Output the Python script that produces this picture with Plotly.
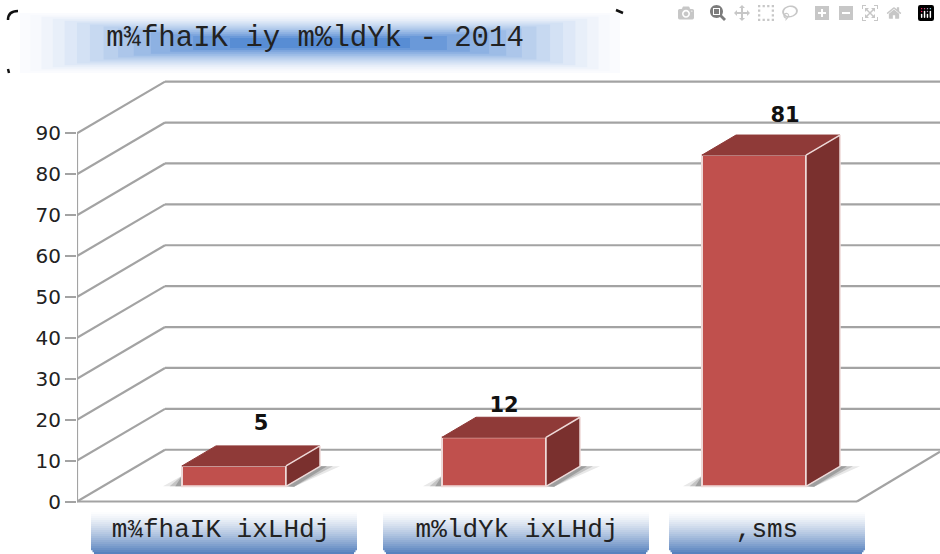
import plotly.graph_objects as go

title_text = "m¾fhaIK iy m%ldYk - 2014"
categories = ["m¾fhaIK ixLHdj", "m%ldYk ixLHdj", ",sms"]
values = [5, 12, 81]
y_ticks = [0, 10, 20, 30, 40, 50, 60, 70, 80, 90]

# layout constants (figure pixels)
W, H = 940, 554
PLOT_L, PLOT_B_PX = 77, 509
Y0_PX, PX_PER_V = 501.5, 4.09
X0_PX, PX_PER_X = 234.0, 260.0
V_MIN = (Y0_PX - PLOT_B_PX) / PX_PER_V
V_MAX = Y0_PX / PX_PER_V
X_MIN = (PLOT_L - X0_PX) / PX_PER_X
X_MAX = (W - X0_PX) / PX_PER_X

WALL_DX, WALL_DV = 88 / PX_PER_X, 12.65
BAR_W, BAR_BASE = 104 / PX_PER_X, 3.7
BAR_DX, BAR_DV = 34 / PX_PER_X, 4.9
FLOOR_END_X = (857 - X0_PX) / PX_PER_X

GRID = "#a3a3a3"
FRONT, TOP, SIDE, EDGE = "#c0504d", "#8f3a38", "#7a302e", "#eed9d8"
label_centers_px = [221, 517, 767]
label_dx_px = [27, 10, 31]
label_dy_px = [41, 31, 38]


def px(x):
    return (x - PLOT_L) / (W - PLOT_L)


def py(y):
    return (PLOT_B_PX - y) / PLOT_B_PX


def rect(x0, x1, y0, y1, color):
    return dict(type="rect", xref="paper", yref="paper", x0=px(x0), x1=px(x1), y0=py(y0), y1=py(y1),
                fillcolor=color, line=dict(width=0), layer="below")


def mix(c0, c1, t):
    return "rgb(%d,%d,%d)" % tuple(round(a + (b - a) * t) for a, b in zip(c0, c1))


shapes = []
# title banner
for i in range(14):
    t = i / 13
    hw = 300 * (1 - t) ** 0.75 + 90 * t
    hh = 30 * (1 - t) + 5 * t
    col = mix((250, 251, 254), (88, 141, 212), t ** 1.5)
    shapes.append(rect(320 - hw, 320 + hw, 43 - hh, 43 + hh, col))
# title corner marks
for d in ["M %f %f Q %f %f %f %f" % (px(8), py(20), px(8), py(11), px(18), py(11)),
          "M %f %f L %f %f" % (px(8), py(69), px(9), py(73)),
          "M %f %f L %f %f" % (px(616), py(10), px(623), py(13))]:
    shapes.append(dict(type="path", xref="paper", yref="paper", path=d, line=dict(color="#111111", width=2.5)))
# category boxes
for x0, x1 in [(91, 357), (383, 649), (669, 865)]:
    for i in range(22):
        y = 510 + 2 * i
        inset = max(0, i - 19) * 1.5
        col = mix((255, 255, 255), (88, 130, 190), (i / 21) ** 1.3)
        shapes.append(rect(x0 + inset, x1 - inset, y, y + 2.2, col))

# walls and floor
for v in y_ticks:
    xs = [X_MIN, X_MIN + WALL_DX, X_MAX]
    ys = [v, v + WALL_DV, v + WALL_DV]
    for j in range(2):
        shapes.append(dict(type="line", xref="x", yref="y", x0=xs[j], x1=xs[j + 1], y0=ys[j], y1=ys[j + 1],
                           line=dict(color=GRID, width=2.2), layer="below"))
for a, b, c, d in [(X_MIN, 0, FLOOR_END_X, 0),
                   (FLOOR_END_X, 0, X_MAX, 12.2),
                   (X_MIN, 0, X_MIN, y_ticks[-1])]:
    shapes.append(dict(type="line", xref="x", yref="y", x0=a, y0=b, x1=c, y1=d,
                       line=dict(color=GRID, width=2.2), layer="below"))

fig = go.Figure()
# shadows
for i, v in enumerate(values):
    l = i - BAR_W / 2
    r = i + BAR_W / 2
    for grow, col in [(1.0, "#e8e8e8"), (0.65, "#c4c4c4"), (0.35, "#9e9e9e")]:
        d = "M %f %f L %f %f L %f %f L %f %f Z" % (
            r, BAR_BASE, r + BAR_DX, BAR_BASE + BAR_DV,
            r + BAR_DX + 20 * grow / PX_PER_X, BAR_BASE + BAR_DV,
            r + 8 / PX_PER_X, BAR_BASE - 0.1)
        shapes.append(dict(type="path", xref="x", yref="y", path=d, fillcolor=col, line=dict(width=0), layer="below"))
        d = "M %f %f L %f %f L %f %f Z" % (
            l, BAR_BASE, l, BAR_BASE + 2.6, l - 19 * grow / PX_PER_X, BAR_BASE)
        shapes.append(dict(type="path", xref="x", yref="y", path=d, fillcolor=col, line=dict(width=0), layer="below"))

fig.add_trace(go.Bar(x=list(range(len(values))), y=values, base=BAR_BASE, width=BAR_W,
                     marker=dict(color=FRONT, line=dict(color=EDGE, width=2)), showlegend=False, hoverinfo="skip"))
for i, v in enumerate(values):
    l = i - BAR_W / 2
    r = i + BAR_W / 2
    t = BAR_BASE + v
    fig.add_trace(go.Scatter(x=[l, l + BAR_DX, r + BAR_DX, r, l], y=[t, t + BAR_DV, t + BAR_DV, t, t],
                             mode="lines", fill="toself", fillcolor=TOP, line=dict(color=TOP, width=1),
                             showlegend=False, hoverinfo="skip"))
    fig.add_trace(go.Scatter(x=[r, r + BAR_DX, r + BAR_DX, r, r],
                             y=[t, t + BAR_DV, BAR_BASE + BAR_DV, BAR_BASE, t],
                             mode="lines", fill="toself", fillcolor=SIDE, line=dict(color=EDGE, width=1.5),
                             showlegend=False, hoverinfo="skip"))
fig.add_trace(go.Scatter(
    x=[i + label_dx_px[i] / PX_PER_X for i in range(len(values))],
    y=[BAR_BASE + v + label_dy_px[i] / PX_PER_V for i, v in enumerate(values)],
    mode="text", text=[str(v) for v in values], textposition="middle center",
    textfont=dict(family="DejaVu Sans", size=21, color="#111111", weight="bold"),
    showlegend=False, hoverinfo="skip"))

fig.update_layout(
    width=W, height=H, autosize=False,
    margin=dict(l=PLOT_L, r=0, t=0, b=H - PLOT_B_PX, pad=0),
    paper_bgcolor="white", plot_bgcolor="white",
    shapes=shapes, showlegend=False,
    title=dict(text=title_text, x=px(315), xref="paper", xanchor="center",
               y=1 - 36 / H, yref="container", yanchor="middle",
               font=dict(family="Liberation Mono", size=29, color="#222222")),
    xaxis=dict(range=[X_MIN, X_MAX], showgrid=False, zeroline=False, showline=False,
               tickmode="array", tickvals=[(p - X0_PX) / PX_PER_X for p in label_centers_px], ticktext=categories,
               ticks="", ticklabelstandoff=1,
               tickfont=dict(family="Liberation Mono", size=26, color="#222222")),
    yaxis=dict(range=[V_MIN, V_MAX], showgrid=False, zeroline=False, showline=False,
               tickmode="array", tickvals=y_ticks, ticks="outside", ticklen=11, tickwidth=2, tickcolor=GRID,
               tickfont=dict(family="DejaVu Sans", size=20, color="#222222")),
)
fig.write_html("out.html", post_script="document.body.style.margin='0';window.dispatchEvent(new Event('resize'));")
